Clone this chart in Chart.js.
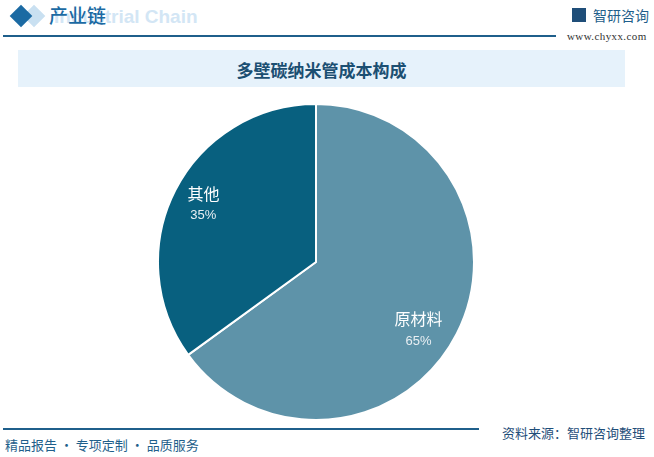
<!DOCTYPE html>
<html>
<head>
<meta charset="utf-8">
<script src="https://cdn.jsdelivr.net/npm/chart.js@4/dist/chart.umd.min.js"></script>
<style>
    body { margin: 0; width: 654px; height: 457px; background: #fff; position: relative; overflow: hidden; font-family: "Noto Sans CJK SC", "Noto Sans", sans-serif; }
    .diamond { position: absolute; width: 16px; height: 16px; transform: rotate(45deg); }
    .hdr { position: absolute; left: 49px; top: 1px; font-size: 19px; color: #1b6aa3; font-weight: 500; }
    .hdr-en { position: absolute; left: 54px; top: 6px; font-size: 19px; color: #d3e6f5; font-weight: bold; font-family: "Liberation Sans", sans-serif; }
    .line { position: absolute; height: 2px; background: #1f5f8b; }
    .logo { position: absolute; left: 593px; top: 5px; font-size: 14px; color: #1f5f8b; }
    .url { position: absolute; left: 567px; top: 30px; font-size: 11px; color: #333; font-family: "Liberation Serif", serif; letter-spacing: 0.4px; }
    .title-box { position: absolute; left: 18px; top: 50px; width: 607px; height: 37px; background: #e6f2fb; }
    .title { position: absolute; left: 0; width: 100%; top: 7px; text-align: center; font-size: 17px; font-weight: bold; color: #1b4f72; }
    .wrap { position: absolute; left: 157px; top: 103px; width: 318px; height: 318px; }
    .foot { position: absolute; left: 5px; top: 435px; font-size: 13px; color: #1f5f8b; }
    .src { position: absolute; left: 502px; top: 423px; font-size: 13px; color: #1f4e79; }
</style>
</head>
<body>
<div class="diamond" style="left:26px;top:8px;background:#c9e0f1;"></div>
<div class="diamond" style="left:13px;top:8px;background:#1b6aa3;"></div>
<div class="hdr-en">Industrial Chain</div>
<div class="hdr">产业链</div>
<div class="line" style="left:3px;top:35px;width:553px;"></div>
<div style="position:absolute;left:572px;top:8px;width:14px;height:14px;background:#1f4e79;"></div>
<div class="logo">智研咨询</div>
<div class="url">www.chyxx.com</div>
<div class="title-box"><div class="title">多壁碳纳米管成本构成</div></div>
<div class="wrap"><canvas id="pie"></canvas></div>
<div class="line" style="left:3px;top:428px;width:476px;"></div>
<div class="src">资料来源：智研咨询整理</div>
<div class="foot">精品报告 · 专项定制 · 品质服务</div>
<script>
const categories = ['原材料', '其他'];
const shares = [65, 35];
const sliceColors = ['#5e93a9', '#08607f'];
// small hand nudges for label placement, as in the original
const labelNudge = [[-10, 11], [0, 0]];

// draws name + percent inside each slice
const sliceLabels = {
    id: 'sliceLabels',
    afterDatasetsDraw(chart) {
        const ctx = chart.ctx;
        const meta = chart.getDatasetMeta(0);
        ctx.save();
        ctx.textAlign = 'center';
        ctx.textBaseline = 'middle';
        meta.data.forEach((arc, i) => {
            const mid = (arc.startAngle + arc.endAngle) / 2;
            const r = arc.outerRadius * 0.8;
            const x = arc.x + Math.cos(mid) * r + labelNudge[i][0];
            const y = arc.y + Math.sin(mid) * r + labelNudge[i][1];
            ctx.fillStyle = '#ffffff';
            ctx.font = '16px "Noto Sans CJK SC"';
            ctx.fillText(categories[i], x, y - 11);
            ctx.fillStyle = '#e9eff3';
            ctx.font = '13px "Liberation Sans"';
            ctx.fillText(shares[i] + '%', x, y + 11);
        });
        ctx.restore();
    }
};

new Chart(document.getElementById('pie').getContext('2d'), {
    type: 'pie',
    data: {
        labels: categories,
        datasets: [{
            data: shares,
            backgroundColor: sliceColors,
            borderColor: '#ffffff',
            borderWidth: 2
        }]
    },
    options: {
        responsive: true,
        maintainAspectRatio: false,
        animation: false,
        layout: { padding: 0 },
        plugins: {
            legend: { display: false },
            tooltip: { enabled: false }
        }
    },
    plugins: [sliceLabels]
});
</script>
</body>
</html>
